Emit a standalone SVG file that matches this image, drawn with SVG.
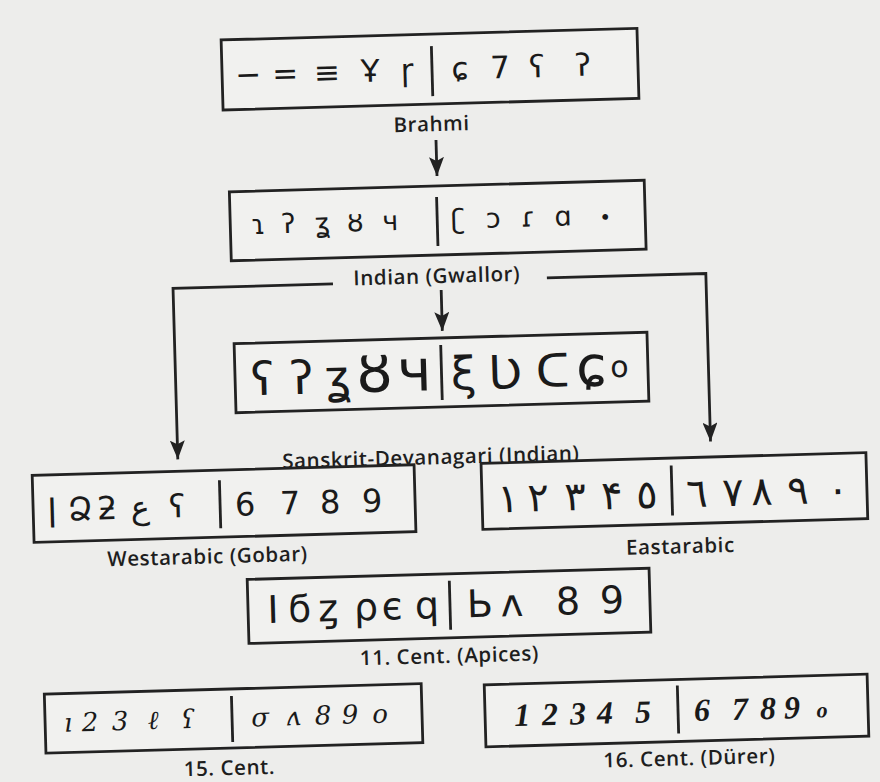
<svg xmlns="http://www.w3.org/2000/svg" width="880" height="782" viewBox="0 0 880 782">
<defs>
<style>
.box{fill:#f1f1ef;stroke:#222;stroke-width:2.8}
.div{stroke:#222;stroke-width:2.8}
.lbl{font-family:"Open Sans","Liberation Sans",sans-serif;font-weight:600;font-size:20.5px;letter-spacing:0.6px;fill:#1e1e1e;text-anchor:middle}
.g{font-family:"DejaVu Sans","Noto Sans",sans-serif;fill:#1a1a1a;text-anchor:middle}
.gs{font-family:"DejaVu Serif","Liberation Serif",serif;font-style:italic;fill:#1a1a1a;text-anchor:middle}
.gd{font-family:"Liberation Serif","DejaVu Serif",serif;font-style:italic;font-weight:bold;fill:#1a1a1a;text-anchor:middle}
.con{fill:none;stroke:#222;stroke-width:2.8}
</style>
<marker id="ah" viewBox="0 0 19 15" refX="19" refY="7.5" markerWidth="19" markerHeight="15" markerUnits="userSpaceOnUse" orient="auto">
<path d="M0,0 L19,7.5 L0,15 L4,7.5 z" fill="#222"/>
</marker>
</defs>
<rect x="0" y="0" width="880" height="782" fill="#ededeb"/>
<g transform="rotate(-1.6 440 391)">
<g id="connectors">
<line class="con" x1="443" y1="140" x2="443" y2="176" marker-end="url(#ah)"/>
<path class="con" d="M336,281 H176 V452" marker-end="url(#ah)"/>
<path class="con" d="M550,281 H709 V449" marker-end="url(#ah)"/>
<line class="con" x1="444" y1="290" x2="444" y2="331" marker-end="url(#ah)"/>
</g>
<g id="brahmi">
<rect class="box" x="231" y="34" width="416" height="70"/>
<line class="div" x1="441" y1="46" x2="441" y2="96"/>
<text class="g" font-size="31" y="80"><tspan x="257">−</tspan><tspan x="294">=</tspan><tspan x="336">≡</tspan><tspan x="379">Ұ</tspan><tspan x="416">ɼ</tspan><tspan x="469">ɕ</tspan><tspan x="509">7</tspan><tspan x="546">ʕ</tspan><tspan x="592">ʔ</tspan></text>
<text class="lbl" x="439" y="131">Brahmi</text>
</g>
<g id="gwalior">
<rect class="box" x="235" y="186" width="415" height="69"/>
<line class="div" x1="442" y1="197" x2="442" y2="246"/>
<text class="g" font-size="27" y="229"><tspan x="263">ɿ</tspan><tspan x="293">ʔ</tspan><tspan x="327">ʓ</tspan><tspan x="360">ȣ</tspan><tspan x="395">ч</tspan><tspan x="463">ʗ</tspan><tspan x="498">ɔ</tspan><tspan x="533">ɾ</tspan><tspan x="568">ɑ</tspan><tspan x="610" font-size="20">•</tspan></text>
<text class="lbl" x="440" y="283">Indian (Gwallor)</text>
</g>
<g id="devanagari">
<rect class="box" x="235.5" y="338" width="413" height="69"/>
<line class="div" x1="442" y1="345" x2="442" y2="400"/>
<text class="g" font-size="46" y="390"><tspan x="263">ʕ</tspan><tspan x="302">ʔ</tspan><tspan x="338">ʓ</tspan><tspan x="375" font-size="58">ȣ</tspan><tspan x="415" font-size="58">ч</tspan><tspan x="464">ξ</tspan><tspan x="505">Ʋ</tspan><tspan x="553">ᑕ</tspan><tspan x="592" font-size="56">ɕ</tspan><tspan x="620" font-size="30" y="382">o</tspan></text>
<text class="lbl" x="429" y="464">Sanskrit-Devanagari (Indian)</text>
</g>
<g id="westarabic">
<rect class="box" x="30" y="464" width="382" height="67"/>
<line class="div" x1="217" y1="474" x2="217" y2="522"/>
<text class="g" font-size="32" y="510"><tspan x="49">ǀ</tspan><tspan x="77">Ձ</tspan><tspan x="104">ƻ</tspan><tspan x="137">ع</tspan><tspan x="174">ʕ</tspan><tspan x="242">6</tspan><tspan x="287">7</tspan><tspan x="327">8</tspan><tspan x="369">9</tspan></text>
<text class="lbl" x="203" y="557">Westarabic (Gobar)</text>
</g>
<g id="eastarabic">
<rect class="box" x="479" y="464.5" width="385" height="66"/>
<line class="div" x1="669" y1="472" x2="669" y2="522"/>
<text class="g" font-size="40" y="514"><tspan x="505">١</tspan><tspan x="535">٢</tspan><tspan x="572">٣</tspan><tspan x="609">۴</tspan><tspan x="644">٥</tspan><tspan x="694">٦</tspan><tspan x="730">٧</tspan><tspan x="759">٨</tspan><tspan x="795">٩</tspan><tspan x="835">٠</tspan></text>
<text class="lbl" x="676" y="560">Eastarabic</text>
</g>
<g id="apices">
<rect class="box" x="242" y="574" width="402" height="64"/>
<line class="div" x1="444" y1="581" x2="444" y2="630"/>
<text class="g" font-size="38" y="618"><tspan x="267">I</tspan><tspan x="294">ϭ</tspan><tspan x="322">ȥ</tspan><tspan x="360">ρ</tspan><tspan x="386">є</tspan><tspan x="421">q</tspan><tspan x="474">Ь</tspan><tspan x="506">ʌ</tspan><tspan x="562">8</tspan><tspan x="606">9</tspan></text>
<text class="lbl" x="442" y="663">11. Cent. (Apices)</text>
</g>
<g id="cent15">
<rect class="box" x="36" y="683" width="377" height="59"/>
<line class="div" x1="223" y1="690" x2="223" y2="736"/>
<text class="gs" font-size="26" y="721"><tspan x="59">ı</tspan><tspan x="81">2</tspan><tspan x="111">3</tspan><tspan x="144">ℓ</tspan><tspan x="179">ʕ</tspan><tspan x="251">σ</tspan><tspan x="284">ʌ</tspan><tspan x="314">8</tspan><tspan x="341">9</tspan><tspan x="371">o</tspan></text>
<text class="lbl" x="219" y="769">15. Cent.</text>
</g>
<g id="cent16">
<rect class="box" x="476" y="686" width="383" height="62"/>
<line class="div" x1="669" y1="692" x2="669" y2="740"/>
<text class="gd" font-size="32" y="728"><tspan x="513">1</tspan><tspan x="541">2</tspan><tspan x="569">3</tspan><tspan x="596">4</tspan><tspan x="634">5</tspan><tspan x="693">6</tspan><tspan x="731">7</tspan><tspan x="759">8</tspan><tspan x="783">9</tspan><tspan x="813" font-size="22">o</tspan></text>
<text class="lbl" x="679" y="772">16. Cent. (Dürer)</text>
</g>
</g>
</svg>
